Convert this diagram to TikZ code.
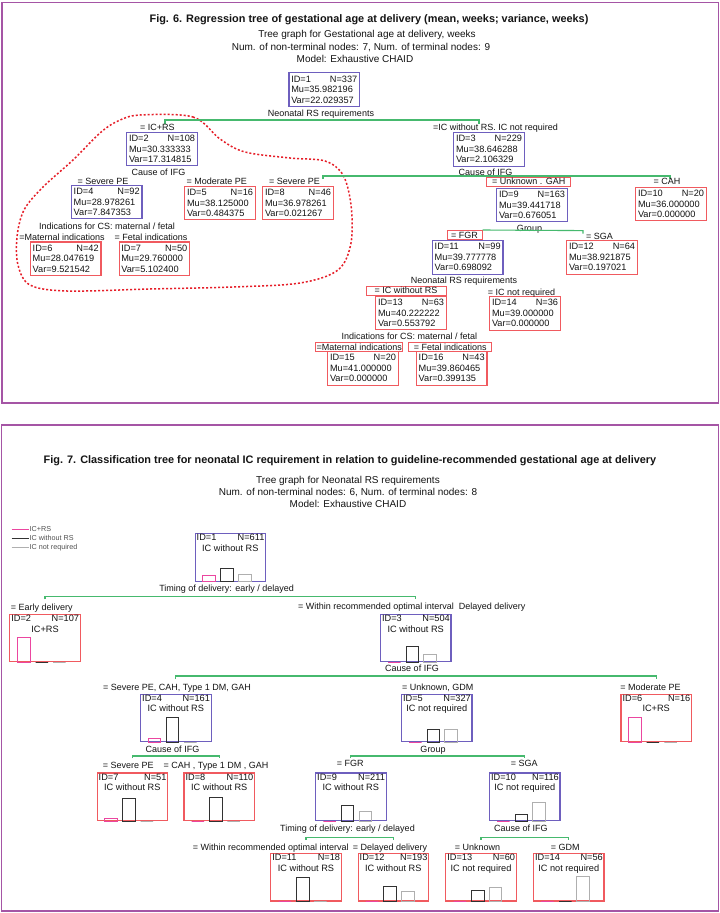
\documentclass[tikz,border=0pt]{standalone}
\usepackage{fontspec}
\setmainfont{Liberation Sans}
\usetikzlibrary{calc}
\definecolor{boxblue}{RGB}{110,95,190}
\definecolor{boxred}{RGB}{240,90,95}
\definecolor{grn}{RGB}{70,185,110}
\definecolor{framec}{RGB}{165,85,165}
\definecolor{pinkc}{RGB}{235,70,160}
\definecolor{darkc}{RGB}{50,50,50}
\definecolor{lightc}{RGB}{175,175,175}
\definecolor{loopc}{RGB}{230,30,40}
\definecolor{txt}{RGB}{20,20,20}
\newcommand\nfnt{\fontsize{9.2}{10.5}\selectfont}
\newcommand\lfnt{\fontsize{9}{10.8}\selectfont}
\newcommand\subfnt{\fontsize{10}{12}\selectfont}
\newcommand\ttlfnt{\fontsize{10.9}{13}\selectfont\bfseries}
\newcommand\legfnt{\fontsize{7.2}{8.5}\selectfont}
\tikzset{
  bx/.style={draw, line width=1.1pt, minimum width=70.5pt, inner sep=0pt, fill=white, text=txt},
  blu/.style={bx, draw=boxblue},
  rd/.style={bx, draw=boxred},
  lbl/.style={inner sep=0pt, font=\lfnt, text=txt, text height=6.6pt, text depth=0pt},
  lblbox/.style={lbl, draw=boxred, line width=1pt, fill=white, minimum height=9pt, minimum width=84pt},
  nt/.style={inner sep=0pt, font=\nfnt, text=txt},
  gline/.style={draw=grn, line width=1.1pt},
  barp/.style={draw=pinkc, line width=1pt},
  bard/.style={draw=darkc, line width=1pt},
  barl/.style={draw=lightc, line width=1pt},
  framest/.style={draw=framec, line width=1.5pt},
  loopst/.style={draw=loopc, line width=1.5pt, dash pattern=on 2pt off 2pt},
  ttl/.style={inner sep=0pt, font=\ttlfnt, text=txt, text height=7.8pt, text depth=0pt},
  subt/.style={inner sep=0pt, font=\subfnt, text=txt, text height=7.2pt, text depth=0pt},
  leg/.style={inner sep=0.5pt, font=\legfnt, text=darkc!85}
}
\newcommand\rnode[8]{\node[#4, minimum height=33.5pt, text width=66pt, align=left, font=\nfnt] (#1) at (#2,#3) {ID=#5\hfill N=#6\\Mu=#7\\Var=#8};}
\newcommand\cnode[9]{%
  \node[#3, minimum height=47.5pt] (#1) at (#2) {};
  \node[nt, anchor=base west] (#1a) at ([shift={(2pt,-7.7pt)}]#1.north west) {ID=#4};
  \node[nt, anchor=base east] (#1b) at ([shift={(-1.5pt,-7.7pt)}]#1.north east) {N=#5};
  \node[nt, anchor=base] (#1c) at ([yshift=-18.4pt]#1.north) {#6};
  \draw[barp] ([xshift=8.3pt]#1.south west) rectangle ++(12.5pt,#7pt);
  \draw[bard] ([xshift=26.3pt]#1.south west) rectangle ++(12.5pt,#8pt);
  \draw[barl] ([xshift=44pt]#1.south west) rectangle ++(12.5pt,#9pt);
}
\begin{document}
\begin{tikzpicture}[x=1pt,y=-1pt]
\useasboundingbox (0,0) rectangle (720,913);
\fill[white] (0,0) rectangle (720,913);
% ================= FIG 6 =================
\draw[framest] (2,2.7) rectangle (718.3,403);
\node[ttl] (t6) at (369,19) {Fig. 6. Regression tree of gestational age at delivery (mean, weeks; variance, weeks)};
\node[subt] (t6a) at (367,34) {Tree graph for Gestational age at delivery, weeks};
\node[subt] (t6b) at (361,47) {Num. of non-terminal nodes: 7, Num. of terminal nodes: 9};
\node[subt] (t6c) at (355,59) {Model: Exhaustive CHAID};

\draw[loopst] plot[smooth cycle, tension=0.55] coordinates {(140,115) (193,117) (220,139) (245,152) (290,158) (325,161) (343,175) (351,205) (351,243) (338,270) (300,283) (233,287) (150,289) (67,291) (30,285) (18,265) (17,237) (24,210) (43,187) (73,160) (100,133) (118,121)};

% green split lines
\coordinate (a1) at (165,120); \coordinate (b1) at (479,120);
\draw[gline] (a1) ++(0,4) -- (a1) -- (b1) -- ++(0,4);
\coordinate (a3) at (323,176); \coordinate (b3) at (670,176);
\draw[gline] (a3) ++(0,3) -- (a3) -- (b3) -- ++(0,3);

\rnode{n1}{324.25}{89.5}{blu}{1}{337}{35.982196}{22.029357}
\rnode{n2}{162}{149}{blu}{2}{108}{30.333333}{17.314815}
\rnode{n3}{489}{149.3}{blu}{3}{229}{38.646288}{2.106329}
\rnode{n4}{106.7}{202}{blu}{4}{92}{28.978261}{7.847353}
\rnode{n5}{220}{203}{rd}{5}{16}{38.125000}{0.484375}
\rnode{n8}{298}{203}{rd}{8}{46}{36.978261}{0.021267}
\rnode{n6}{65.7}{258.7}{rd}{6}{42}{28.047619}{9.521542}
\rnode{n7}{154.3}{258.7}{rd}{7}{50}{29.760000}{5.102400}
\rnode{n9}{532}{205}{blu}{9}{163}{39.441718}{0.676051}
\rnode{n10}{671}{204}{rd}{10}{20}{36.000000}{0.000000}
\rnode{n11}{467.7}{257.3}{blu}{11}{99}{39.777778}{0.698092}
\rnode{n12}{602}{257.3}{rd}{12}{64}{38.921875}{0.197021}
\rnode{n13}{411}{313}{rd}{13}{63}{40.222222}{0.553792}
\rnode{n14}{525}{313.3}{rd}{14}{36}{39.000000}{0.000000}
\rnode{n15}{363}{368.3}{rd}{15}{20}{41.000000}{0.000000}
\rnode{n16}{451.7}{368.3}{rd}{16}{43}{39.860465}{0.399135}

\node[lbl] (l1) at (321,113) {Neonatal RS requirements};
\node[lbl] (l2) at (157.5,127) {= IC+RS};
\node[lbl] (l3) at (495.5,127) {=IC without RS. IC not required};
\node[lbl] (l4) at (158.5,172) {Cause of IFG};
\node[lbl] (l5) at (485.5,171.7) {Cause of IFG};
\node[lbl] (l6) at (103,181) {= Severe PE};
\node[lbl] (l7) at (216.7,181) {= Moderate PE};
\node[lbl] (l8) at (294.5,181) {= Severe PE};
\node[lblbox] (l9) at (528.7,181.5) {= Unknown . GAH};
\node[lbl] (l10) at (667,181) {= CAH};
\node[lbl] (l11) at (107,225.7) {Indications for CS: maternal / fetal};
\node[lbl] (l12) at (62,237.3) {=Maternal indications};
\node[lbl] (l13) at (151,237.3) {= Fetal indications};
\node[lbl] (l14) at (529.5,228) {Group};
\node[lblbox, minimum width=35pt] (l15) at (464.5,235) {= FGR};
\coordinate (b9) at (583,230.6);
\draw[gline] (l15.north east) -- (b9) -- ++(0,3);
\node[lbl] (l16) at (599.5,235.7) {= SGA};
\node[lbl] (l17) at (464,280.3) {Neonatal RS requirements};
\node[lblbox, minimum width=80pt] (l18) at (406,290.5) {= IC without RS};
\node[lbl] (l19) at (521.5,291.7) {= IC not required};
\node[lbl] (l20) at (409.3,336) {Indications for CS: maternal / fetal};
\node[lblbox, minimum width=87.3pt] (l21) at (359.3,347.2) {=Maternal indications};
\node[lblbox, minimum width=82.7pt] (l22) at (450.3,347.2) {= Fetal indications};

% ================= FIG 7 =================
\draw[framest] (1.7,425) rectangle (718.3,911);
\node[ttl] (t7) at (350,459.3) {Fig. 7. Classification tree for neonatal IC requirement in relation to guideline-recommended gestational age at delivery};
\node[subt] (t7a) at (348,480) {Tree graph for Neonatal RS requirements};
\node[subt] (t7b) at (348,492) {Num. of non-terminal nodes: 6, Num. of terminal nodes: 8};
\node[subt] (t7c) at (348,504.3) {Model: Exhaustive CHAID};

\node[leg, anchor=west] (lg1) at (29,529.3) {IC+RS};
\node[leg, anchor=west] (lg2) at (29,538.3) {IC without RS};
\node[leg, anchor=west] (lg3) at (29,547.3) {IC not required};
\coordinate (lgs1) at (11.7,529.3); \coordinate (lgs2) at (11.7,538.3); \coordinate (lgs3) at (11.7,547.3);
\draw[barp] (lgs1) -- (lg1.west);
\draw[bard] (lgs2) -- (lg2.west);
\draw[barl] (lgs3) -- (lg3.west);

\cnode{m1}{230.3,557.5}{blu}{1}{611}{IC without RS}{6}{13.7}{7}
\cnode{m2}{45,638}{rd}{2}{107}{IC+RS}{25}{0}{0}
\cnode{m3}{415.7,638}{blu}{3}{504}{IC without RS}{0}{15.7}{8}
\cnode{m4}{175.8,717.8}{blu}{4}{161}{IC without RS}{3.4}{24.4}{0}
\cnode{m5}{436.7,717.8}{blu}{5}{327}{IC not required}{0}{12.7}{12.7}
\cnode{m6}{656.2,717.8}{rd}{6}{16}{IC+RS}{25}{0}{0}
\cnode{m7}{132.3,796.7}{rd}{7}{51}{IC without RS}{3}{22.4}{0}
\cnode{m8}{219.2,796.7}{rd}{8}{110}{IC without RS}{0}{24}{0}
\cnode{m9}{350.8,796.7}{blu}{9}{211}{IC without RS}{0}{15.7}{9.7}
\cnode{m10}{524.7,796.7}{blu}{10}{116}{IC not required}{0}{6.7}{18.4}
\cnode{m11}{306,877.2}{rd}{11}{18}{IC without RS}{0}{24.3}{0}
\cnode{m12}{393.3,877.2}{rd}{12}{193}{IC without RS}{0}{15.3}{10.3}
\cnode{m13}{481,877.2}{rd}{13}{60}{IC not required}{0}{11}{13.7}
\cnode{m14}{568.7,877.2}{rd}{14}{56}{IC not required}{0}{0}{25}

\node[lbl] (k1) at (226.6,588.3) {Timing of delivery: early / delayed};
\node[lbl] (k2) at (41.7,606.7) {= Early delivery};
\node[lbl] (k3) at (411.7,605.7) {= Within recommended optimal interval\ \ Delayed delivery};
\node[lbl] (k4) at (412,668.3) {Cause of IFG};
\node[lbl] (k5) at (177,686.7) {= Severe PE, CAH, Type 1 DM, GAH};
\node[lbl] (k6) at (437.7,686.7) {= Unknown, GDM};
\node[lbl] (k7) at (650.5,686.7) {= Moderate PE};
\node[lbl] (k8) at (172.5,749) {Cause of IFG};
\node[lbl] (k9) at (128.3,765.3) {= Severe PE};
\node[lbl] (k10) at (216,765.3) {= CAH , Type 1 DM , GAH};
\node[lbl] (k11) at (433,749) {Group};
\node[lbl] (k12) at (350.2,763.3) {= FGR};
\node[lbl] (k13) at (524.2,763.3) {= SGA};
\node[lbl] (k14) at (347.5,828.3) {Timing of delivery: early / delayed};
\node[lbl] (k15) at (270.8,846.7) {= Within recommended optimal interval};
\node[lbl] (k16) at (390,846.7) {= Delayed delivery};
\node[lbl] (k17) at (520.8,828.3) {Cause of IFG};
\node[lbl] (k18) at (477.5,846.7) {= Unknown};
\node[lbl] (k19) at (565.2,846.7) {= GDM};

\coordinate (s1) at (0,596.7);
\draw[gline] (m2|-s1) ++(0,2.6) -- (m2|-s1) -- (m3|-s1) -- ++(0,2.6);
\coordinate (s3) at (0,676);
\draw[gline] (m4|-s3) ++(0,3) -- (m4|-s3) -- (m6|-s3) -- ++(0,3);
\coordinate (s4) at (0,756);
\draw[gline] (m7|-s4) ++(0,2.4) -- (m7|-s4) -- (m8|-s4) -- ++(0,2.4);
\draw[gline] (m9|-s4) ++(0,2.4) -- (m9|-s4) -- (m10|-s4) -- ++(0,2.4);
\coordinate (s9) at (0,837.3);
\draw[gline] (m11|-s9) ++(0,2.6) -- (m11|-s9) -- (m12|-s9) -- ++(0,2.6);
\draw[gline] (m13|-s9) ++(0,2.6) -- (m13|-s9) -- (m14|-s9) -- ++(0,2.6);
\end{tikzpicture}
\end{document}
